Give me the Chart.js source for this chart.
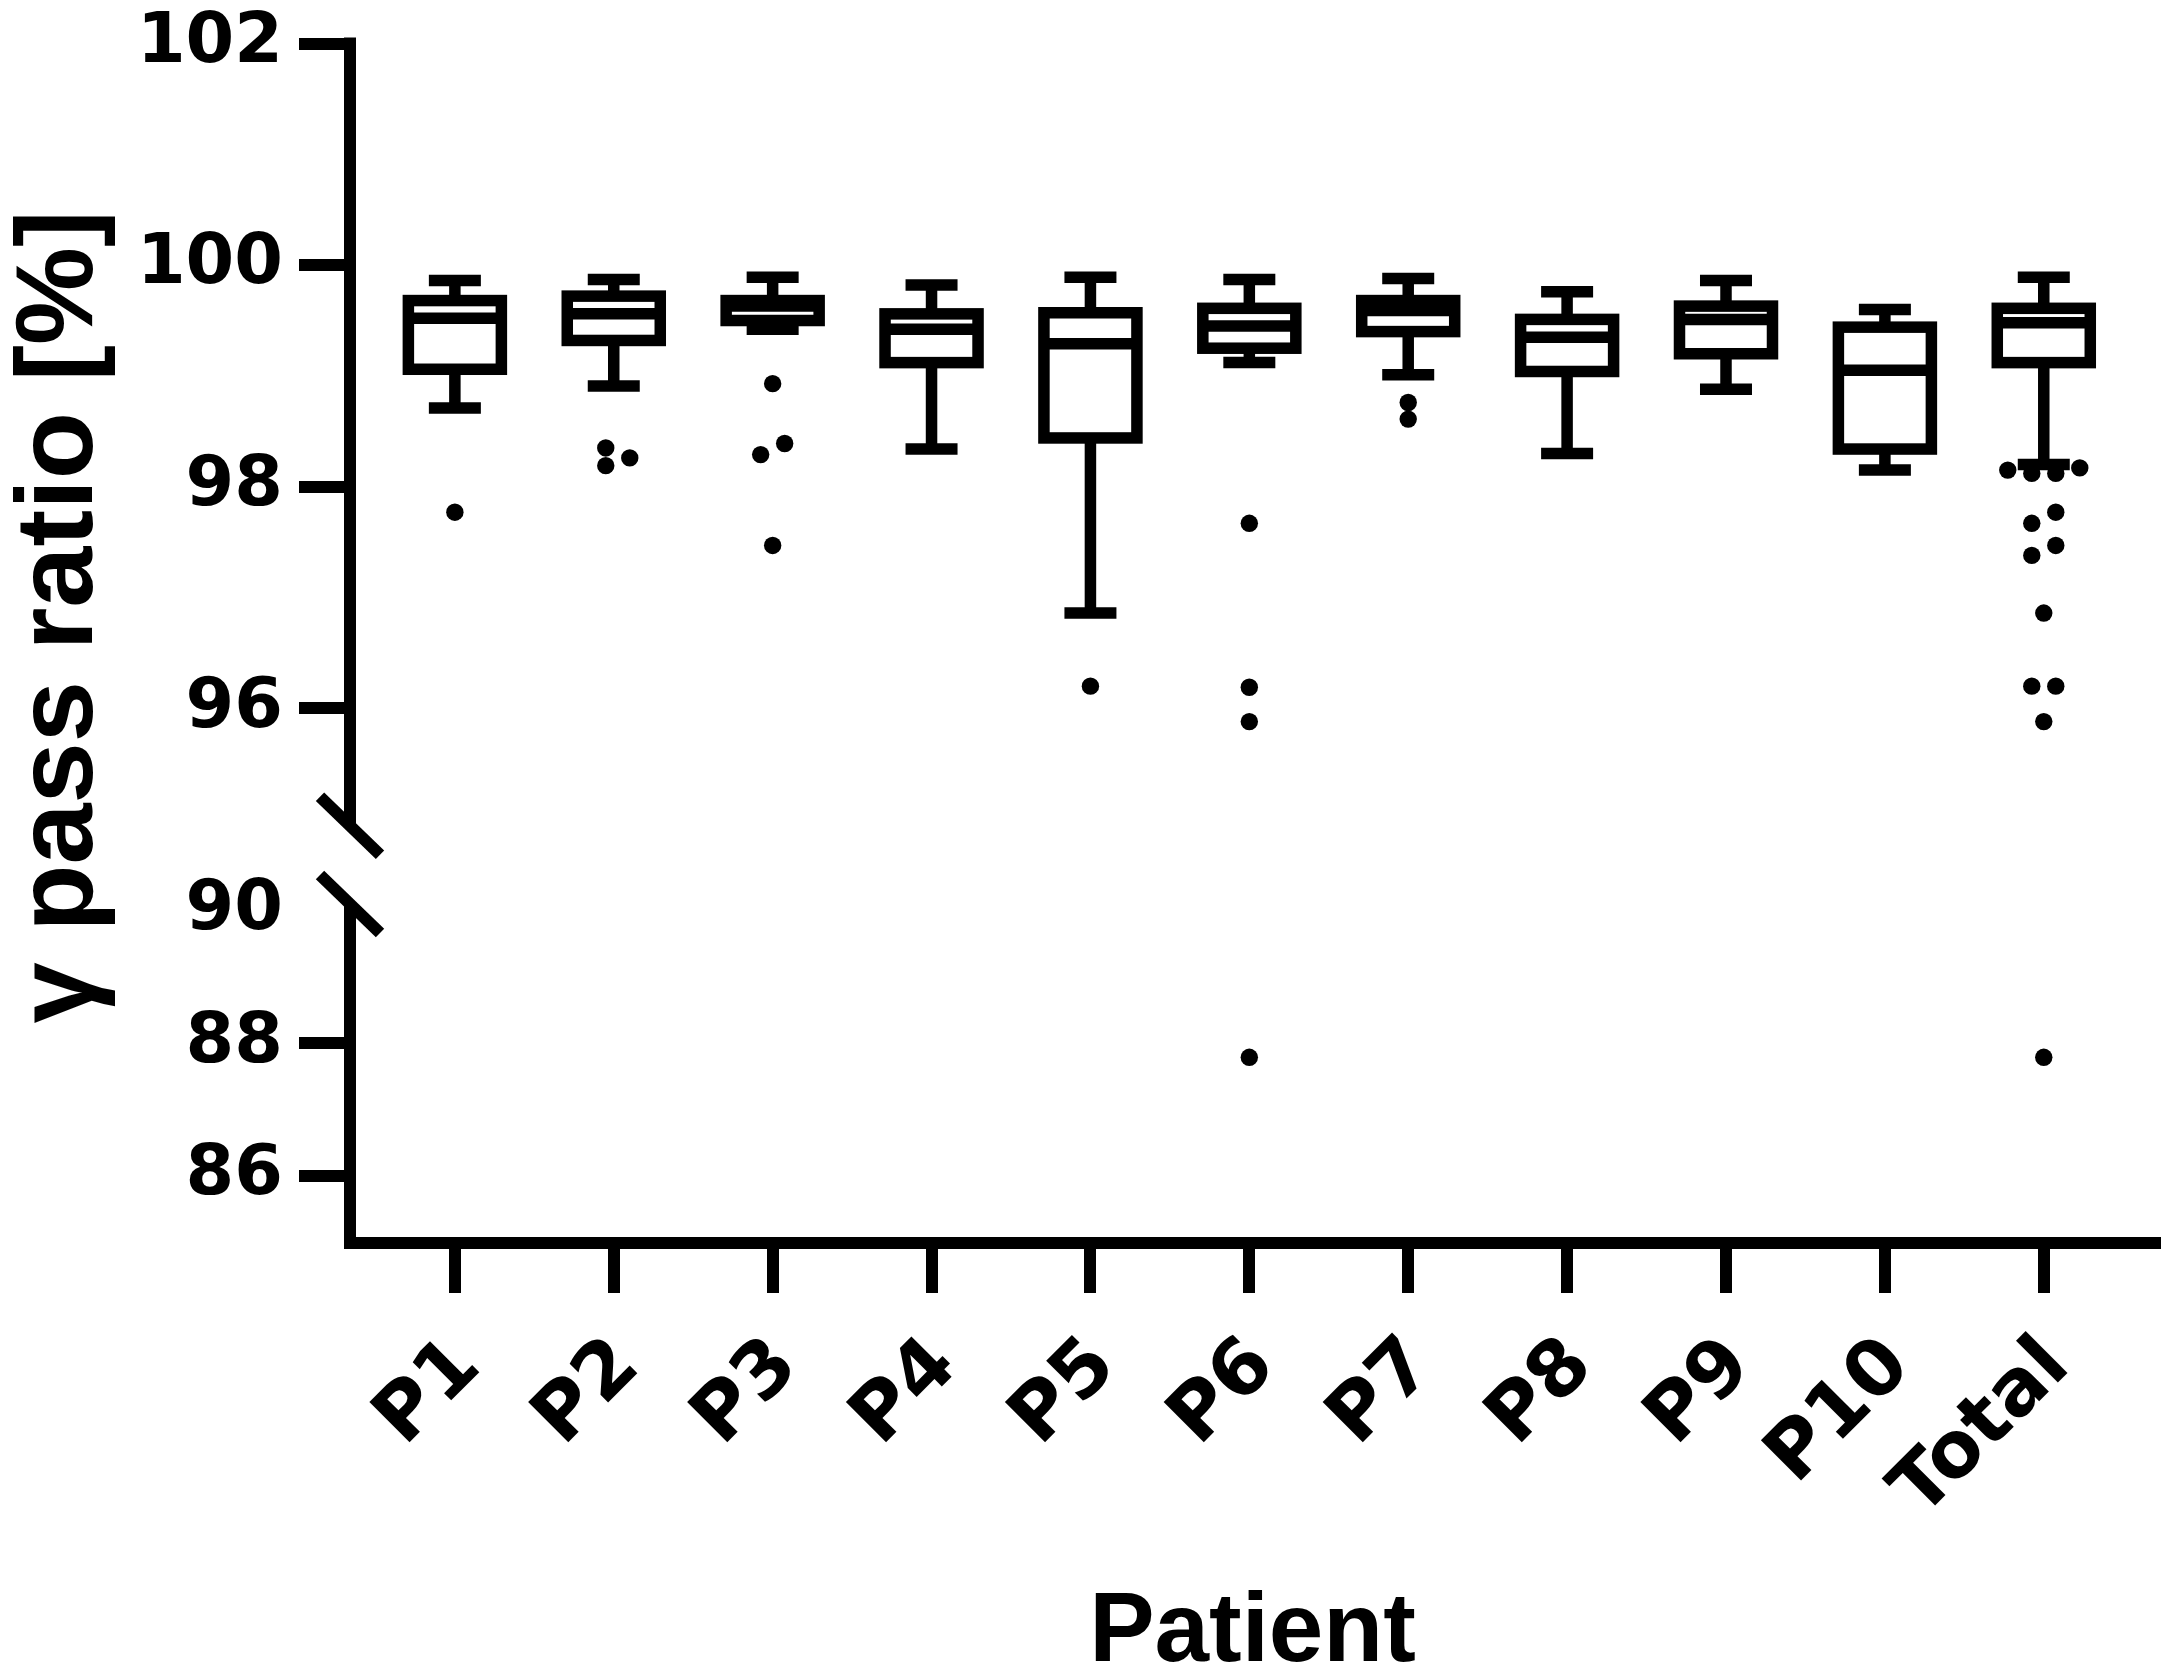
<!DOCTYPE html>
<html>
<head>
<meta charset="utf-8">
<title>γ pass ratio per patient</title>
<script src="https://cdn.jsdelivr.net/npm/chart.js@4.4.1/dist/chart.umd.min.js"></script>
<style>
  html, body { margin: 0; padding: 0; background: #fff; }
  canvas { display: block; }
</style>
</head>
<body>
<canvas id="boxChart" width="2164" height="1668"></canvas>
<script>
// box plot values
const patients = ["P1", "P2", "P3", "P4", "P5", "P6", "P7", "P8", "P9", "P10", "Total"];
const whiskerHigh = [99.86, 99.87, 99.89, 99.82, 99.89, 99.87, 99.88, 99.76, 99.86, 99.60, 99.89];
const upperQuartile = [99.68, 99.72, 99.68, 99.56, 99.57, 99.61, 99.68, 99.51, 99.63, 99.44, 99.61];
const medians = [99.52, 99.56, 99.63, 99.42, 99.29, 99.45, 99.59, 99.35, 99.51, 99.05, 99.48];
const lowerQuartile = [99.06, 99.32, 99.50, 99.12, 98.44, 99.25, 99.40, 99.04, 99.20, 98.34, 99.12];
const whiskerLow = [98.71, 98.91, 99.42, 98.34, 96.86, 99.12, 99.01, 98.30, 98.88, 98.15, 98.20];
const outliers = [
  [97.77],
  [98.35, 98.26, 98.19],
  [98.93, 98.39, 98.29, 97.47],
  [],
  [96.20],
  [97.67, 96.19, 95.88, 87.79],
  [98.76, 98.61],
  [],
  [],
  [],
  [98.17, 98.15, 98.12, 98.12, 97.77, 97.67, 97.47, 97.38, 96.86, 96.20, 96.20, 95.88, 87.79]
];

// broken y axis: two stacked scales
const topTicks = [96, 98, 100, 102];
const bottomTicks = [86, 88, 90];
const topRange = [94.234, 102];
const bottomRange = [85, 90.1];
const breakValue = 94.94;

const yTitle = "γ pass ratio [%]";
const xTitle = "Patient";

const topPoints = [];
const bottomPoints = [];
outliers.forEach((vals, i) => {
  vals.forEach(v => {
    if (v > bottomRange[1]) topPoints.push({ x: i, y: v });
    else bottomPoints.push({ x: i, y: v });
  });
});

const yTickFont = { family: "DejaVu Sans", weight: "bold", size: 70 };
const xTickFont = { family: "DejaVu Sans", weight: "bold", size: 78 };

// spread outliers sideways when they would sit on top of each other
const swarmPlugin = {
  id: "swarm",
  afterDatasetsUpdate(chart) {
    const step = 24, minGap = 15;
    chart.data.datasets.forEach((ds, di) => {
      const meta = chart.getDatasetMeta(di);
      const groups = {};
      meta.data.forEach((pt, i) => {
        const c = ds.data[i].x;
        (groups[c] = groups[c] || []).push(pt);
      });
      Object.values(groups).forEach(pts => {
        pts.sort((a, b) => b.y - a.y);
        const placed = [];
        pts.forEach(p => {
          let off = 0;
          for (const c of [0, 1, -1, 2, -2, 3, -3]) {
            off = c * step;
            if (!placed.some(q => q.off === off && Math.abs(q.p.y - p.y) < minGap)) break;
          }
          placed.push({ p, off });
        });
        let cluster = [];
        const flush = () => {
          const m = cluster.reduce((s, c) => s + c.off, 0) / cluster.length;
          cluster.forEach(c => { c.p.x += c.off - m; });
          cluster = [];
        };
        placed.forEach((c, i) => {
          if (i > 0 && Math.abs(c.p.y - placed[i - 1].p.y) >= minGap) flush();
          cluster.push(c);
        });
        if (cluster.length) flush();
      });
    });
  }
};

// box + whiskers, drawn through the chart scales
const boxPlugin = {
  id: "boxes",
  beforeDatasetsDraw(chart) {
    const { ctx } = chart;
    const xs = chart.scales.x, ys = chart.scales.yTop;
    const half = 46.5, capHalf = 26;
    const seg = (x1, y1, x2, y2) => { ctx.beginPath(); ctx.moveTo(x1, y1); ctx.lineTo(x2, y2); ctx.stroke(); };
    ctx.save();
    ctx.strokeStyle = "#000";
    ctx.lineWidth = 11.5;
    ctx.lineCap = "butt";
    ctx.lineJoin = "miter";
    patients.forEach((p, i) => {
      const cx = xs.getPixelForValue(i);
      const hi = ys.getPixelForValue(whiskerHigh[i]);
      const q3 = ys.getPixelForValue(upperQuartile[i]);
      const md = ys.getPixelForValue(medians[i]);
      const q1 = ys.getPixelForValue(lowerQuartile[i]);
      const lo = ys.getPixelForValue(whiskerLow[i]);
      seg(cx, hi, cx, q3);
      seg(cx, q1, cx, lo);
      seg(cx - capHalf, hi, cx + capHalf, hi);
      seg(cx - capHalf, lo, cx + capHalf, lo);
      ctx.fillStyle = "#fff";
      ctx.fillRect(cx - half, q3, half * 2, q1 - q3);
      ctx.strokeRect(cx - half, q3, half * 2, q1 - q3);
      seg(cx - half, md, cx + half, md);
    });
    ctx.restore();
  }
};

// y axis line with the break marks, and the y title
const axisPlugin = {
  id: "brokenAxis",
  afterDraw(chart) {
    const { ctx, chartArea } = chart;
    const top = chart.scales.yTop, bot = chart.scales.yBottom;
    const ax = chartArea.left;
    const seg = (x1, y1, x2, y2) => { ctx.beginPath(); ctx.moveTo(x1, y1); ctx.lineTo(x2, y2); ctx.stroke(); };
    ctx.save();
    ctx.strokeStyle = "#000";
    ctx.lineWidth = 12;
    ctx.lineCap = "butt";
    const yA = top.getPixelForValue(topRange[1]) - 6;
    const yB = top.getPixelForValue(breakValue);
    const yC = bot.getPixelForValue(bottomRange[1]);
    const yD = chartArea.bottom + 6;
    seg(ax, yA, ax, yB);
    seg(ax, yC, ax, yD);
    [yB, yC].forEach(yy => seg(ax - 30, yy - 29, ax + 30, yy + 29));

    ctx.translate(ax - 288, (chartArea.top + chartArea.bottom) / 2 - 26);
    ctx.rotate(-Math.PI / 2);
    ctx.font = 'bold 110px "Liberation Sans"';
    ctx.fillStyle = "#000";
    ctx.textAlign = "center";
    ctx.textBaseline = "middle";
    ctx.fillText(yTitle, 0, 0);
    ctx.restore();
  }
};

const yGrid = {
  drawOnChartArea: false,
  drawTicks: true,
  tickLength: 51,
  tickWidth: 12,
  lineWidth: 12,
  tickColor: c => (c.tick && c.tick.value === 90 ? "rgba(0,0,0,0)" : "#000")
};

const ctx = document.getElementById("boxChart").getContext("2d");
new Chart(ctx, {
  type: "scatter",
  data: {
    datasets: [
      { label: "outliers", data: topPoints, yAxisID: "yTop", backgroundColor: "#000", borderWidth: 0, pointRadius: 8.7, pointHoverRadius: 8.7 },
      { label: "outliers low", data: bottomPoints, yAxisID: "yBottom", backgroundColor: "#000", borderWidth: 0, pointRadius: 8.7, pointHoverRadius: 8.7 }
    ]
  },
  options: {
    responsive: false,
    animation: false,
    devicePixelRatio: 1,
    layout: { padding: { left: 50, right: 9, top: 43.5, bottom: 0 } },
    plugins: { legend: { display: false }, tooltip: { enabled: false } },
    scales: {
      x: {
        type: "linear",
        min: -0.66,
        max: 10.70,
        afterBuildTicks: s => { s.ticks = patients.map((p, i) => ({ value: i })); },
        afterFit: s => { s.height = 425.5; s.paddingLeft = 0; s.paddingRight = 0; },
        ticks: {
          autoSkip: false,
          minRotation: 45,
          maxRotation: 45,
          padding: 28,
          labelOffset: 14,
          color: "#000",
          font: xTickFont,
          callback: v => patients[v]
        },
        grid: { drawOnChartArea: false, tickLength: 50.5, tickWidth: 12, lineWidth: 12, tickColor: "#000" },
        border: { display: true, width: 12, color: "#000" },
        title: {
          display: true,
          text: xTitle,
          color: "#000",
          padding: 0,
          font: { family: "Liberation Sans", weight: "bold", size: 98, lineHeight: 0.7 }
        }
      },
      yBottom: {
        type: "linear",
        position: "left",
        stack: "gamma",
        stackWeight: 338.5,
        min: bottomRange[0],
        max: bottomRange[1],
        afterBuildTicks: s => { s.ticks = bottomTicks.map(v => ({ value: v })); },
        afterFit: s => { s.width = 300; s.paddingTop = 0; s.paddingBottom = 0; },
        ticks: { padding: 16, color: "#000", font: yTickFont },
        grid: yGrid,
        border: { display: false }
      },
      yTop: {
        type: "linear",
        position: "left",
        stack: "gamma",
        stackWeight: 860.5,
        min: topRange[0],
        max: topRange[1],
        afterBuildTicks: s => { s.ticks = topTicks.map(v => ({ value: v })); },
        afterFit: s => { s.width = 300; s.paddingTop = 0; s.paddingBottom = 0; },
        ticks: { padding: 16, color: "#000", font: yTickFont },
        grid: yGrid,
        border: { display: false }
      }
    }
  },
  plugins: [swarmPlugin, boxPlugin, axisPlugin]
});
</script>
</body>
</html>
